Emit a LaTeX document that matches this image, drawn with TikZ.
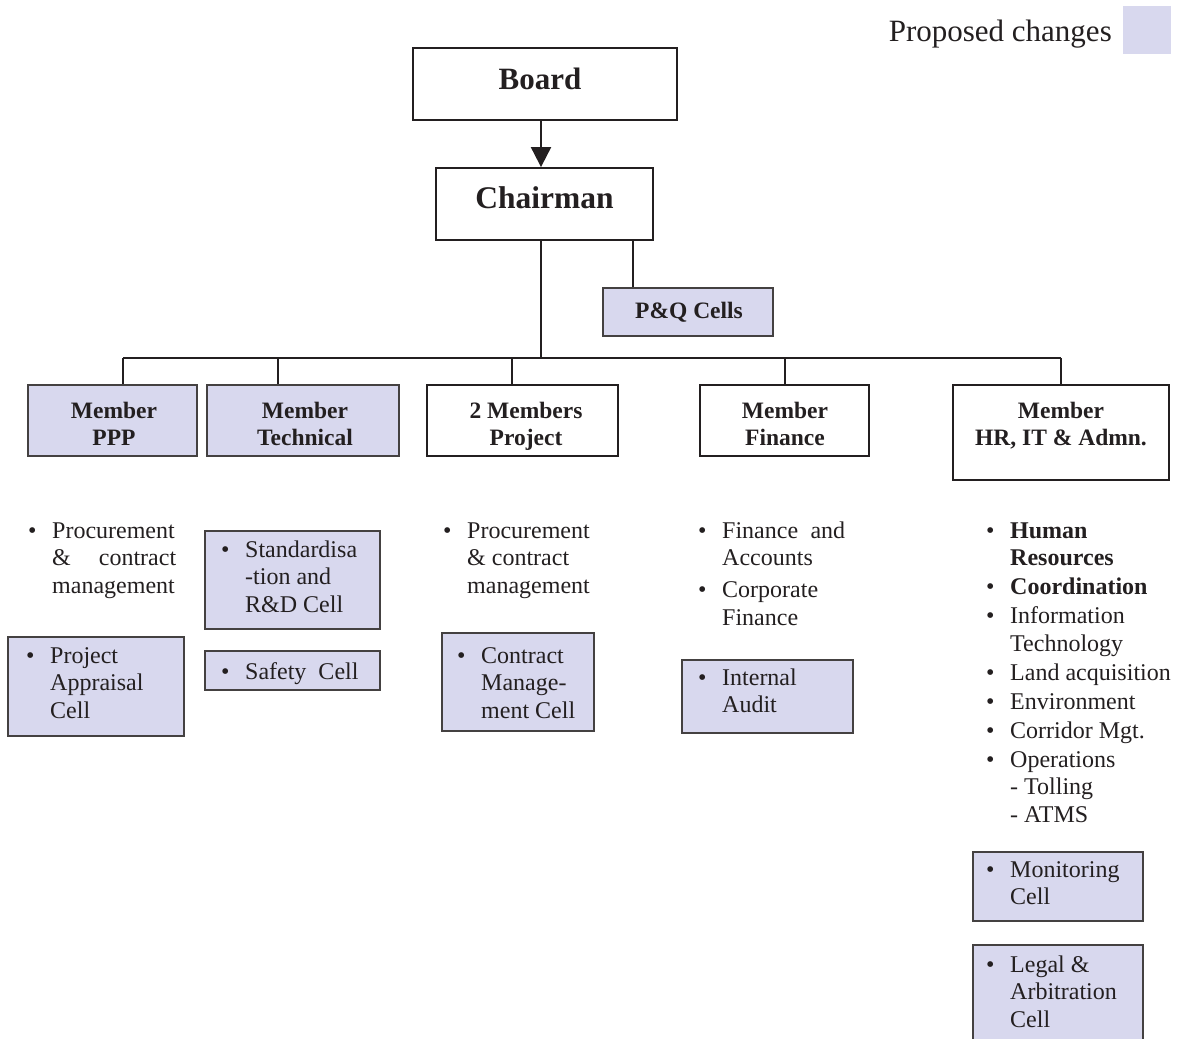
\documentclass[tikz,border=0pt]{standalone}
\usepackage{fontspec}
\setmainfont{Liberation Serif}
\usetikzlibrary{calc,arrows.meta}
\definecolor{prop}{RGB}{216,216,238}
\definecolor{ink}{RGB}{35,31,32}
\newcommand{\bl}{\textbullet}

\begin{document}
\begin{tikzpicture}[x=1pt,y=-1pt,
  box/.style={draw=ink,line width=1.3pt,rectangle,inner sep=0pt},
  newbox/.style={box,fill=prop,draw=ink!85},
  topbox/.style={box,line width=1.8pt},
  head/.style={anchor=base,inner sep=0pt,text=ink,font=\bfseries\fontsize{23.5}{27}\selectfont},
  lst/.style={anchor=base west,inner sep=0pt,text=ink,font=\fontsize{24}{27.5}\selectfont},
  link/.style={draw=ink,line width=1.5pt}]
\useasboundingbox (0,0) rectangle (1185,1038);

\node[newbox,draw=none,minimum width=48pt,minimum height=48pt] (key) at (1147,30) {};
\node[anchor=base east,inner sep=0pt,text=ink,font=\fontsize{31}{34}\selectfont] (keyT) at (1112,42) {Proposed changes};

\node[topbox,minimum width=264pt,minimum height=72pt] (board) at (545,84) {};
\node[head,font=\bfseries\fontsize{31}{34}\selectfont] (boardT) at (540,90) {Board};
\node[topbox,minimum width=217pt,minimum height=72pt] (chair) at (544.5,204) {};
\node[head,font=\bfseries\fontsize{31.5}{34}\selectfont] (chairT) at (544.5,208) {Chairman};
\node[newbox,minimum width=170pt,minimum height=48pt] (pq) at (688,312) {};
\node[head] (pqT) at (689,318) {P\&Q Cells};

\node[newbox,minimum width=169pt,minimum height=71pt] (ppp) at (112.5,420.5) {};
\node[newbox,minimum width=192pt,minimum height=71pt] (tech) at (303,420.5) {};
\node[box,minimum width=191pt,minimum height=71pt] (proj) at (522.5,420.5) {};
\node[box,minimum width=169pt,minimum height=71pt] (fin) at (784.5,420.5) {};
\node[box,minimum width=216pt,minimum height=95pt] (hr) at (1061,432.5) {};
\node[head] (pppT) at (114,418) {\begin{tabular}[t]{@{}c@{}}Member\\PPP\end{tabular}};
\node[head] (techT) at (305,418) {\begin{tabular}[t]{@{}c@{}}Member\\Technical\end{tabular}};
\node[head] (projT) at (526,418) {\begin{tabular}[t]{@{}c@{}}2 Members\\Project\end{tabular}};
\node[head] (finT) at (785,418) {\begin{tabular}[t]{@{}c@{}}Member\\Finance\end{tabular}};
\node[head] (hrT) at (1061,418) {\begin{tabular}[t]{@{}c@{}}Member\\HR, IT \& Admn.\end{tabular}};

\draw[link,line width=2pt,-{Triangle[width=20pt,length=20pt]}] ([xshift=-4pt]board.south) -- ([xshift=-3.5pt]chair.north);
\coordinate (pqtap) at (633,240);
\draw[link,line width=1.2pt] (pqtap) -- (pqtap |- pq.north);
\foreach \n/\x in {ppp/123,tech/278,proj/512,fin/785,hr/1061}{
  \coordinate (d\n) at (\x,358);
  \draw[link] (d\n) -- (d\n |- \n.north);
}
\draw[link] (dppp) -- (dhr);
\draw[link,line width=2pt] ([xshift=-3.5pt]chair.south) -- ([xshift=-3.5pt]chair.south |- dppp);

\node[lst] (pppL) at (28,538) {\begin{tabular}[t]{@{}p{24pt}@{}l@{}}
\bl & Procurement\\ & \makebox[124pt][s]{\& contract}\\ & management\end{tabular}};
\node[newbox,minimum width=176pt,minimum height=99pt] (appr) at (96,686.5) {};
\node[lst] (apprL) at (26,663) {\begin{tabular}[t]{@{}p{24pt}@{}l@{}}
\bl & Project\\ & Appraisal\\ & Cell\end{tabular}};

\node[newbox,minimum width=175pt,minimum height=98pt] (std) at (292.5,580) {};
\node[lst] (stdL) at (221,557) {\begin{tabular}[t]{@{}p{24pt}@{}l@{}}
\bl & Standardisa\\ & -tion and\\ & R\&D Cell\end{tabular}};
\node[newbox,minimum width=175pt,minimum height=39pt] (safety) at (292.5,670.5) {};
\node[lst] (safetyL) at (221,679) {\begin{tabular}[t]{@{}p{24pt}@{}l@{}}
\bl & Safety\ \ Cell\end{tabular}};

\node[lst] (projL) at (443,538) {\begin{tabular}[t]{@{}p{24pt}@{}l@{}}
\bl & Procurement\\ & \& contract\\ & management\end{tabular}};
\node[newbox,minimum width=152pt,minimum height=98pt] (cmc) at (518,682) {};
\node[lst] (cmcL) at (457,663) {\begin{tabular}[t]{@{}p{24pt}@{}l@{}}
\bl & Contract\\ & Manage-\\ & ment Cell\end{tabular}};

\node[lst] (finL) at (698,538) {\begin{tabular}[t]{@{}p{24pt}@{}l@{}}
\bl & \makebox[123pt][s]{Finance and}\\ & Accounts\\[4.5pt]
\bl & Corporate\\ & Finance\end{tabular}};
\node[newbox,minimum width=171pt,minimum height=73pt] (audit) at (767.5,696.5) {};
\node[lst] (auditL) at (698,685) {\begin{tabular}[t]{@{}p{24pt}@{}l@{}}
\bl & Internal\\ & Audit\end{tabular}};

\node[lst] (hrL) at (986,538) {\begin{tabular}[t]{@{}p{24pt}@{}l@{}}
\bl & \textbf{Human}\\ & \textbf{Resources}\\[1.5pt]
\bl & \textbf{Coordination}\\[1.5pt]
\bl & Information\\ & Technology\\[1.5pt]
\bl & Land acquisition\\[1.5pt]
\bl & Environment\\[1.5pt]
\bl & Corridor Mgt.\\[1.5pt]
\bl & Operations\\ & - Tolling\\ & - ATMS\end{tabular}};
\node[newbox,minimum width=170pt,minimum height=69pt] (mon) at (1058,886.5) {};
\node[lst] (monL) at (986,877) {\begin{tabular}[t]{@{}p{24pt}@{}l@{}}
\bl & Monitoring\\ & Cell\end{tabular}};
\node[newbox,minimum width=170pt,minimum height=125pt] (legal) at (1058,1007.5) {};
\node[lst] (legalL) at (986,972) {\begin{tabular}[t]{@{}p{24pt}@{}l@{}}
\bl & Legal \&\\ & Arbitration\\ & Cell\end{tabular}};

\end{tikzpicture}
\end{document}
